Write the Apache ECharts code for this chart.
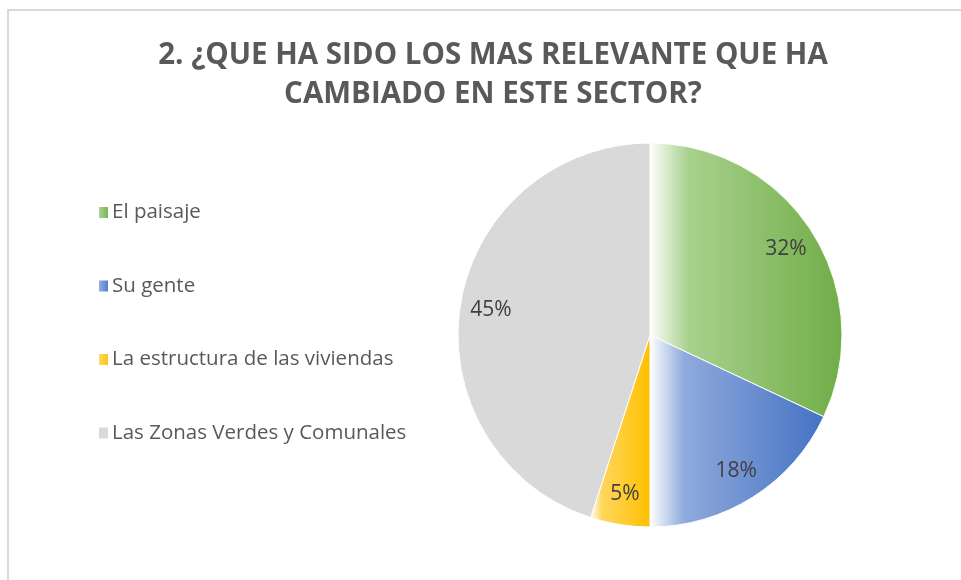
<!DOCTYPE html>
<html>
<head>
<meta charset="utf-8">
<script src="https://cdn.jsdelivr.net/npm/echarts@6/dist/echarts.min.js"></script>
<style>
  html, body { margin: 0; padding: 0; background: #fff; }
  #main { width: 961px; height: 580px; }
</style>
</head>
<body>
<div id="main"></div>
<script>
var categories = ['El paisaje', 'Su gente', 'La estructura de las viviendas', 'Las Zonas Verdes y Comunales'];
var values = [32, 18, 5, 45];
var baseColors = ['#70ad47', '#4472c4', '#ffc000', '#d9d9d9'];
var lightColors = ['#a9d18e', '#8faadc', '#ffd65c', '#d9d9d9'];

function grad(i) {
    if (i === 3) return baseColors[3];
    return new echarts.graphic.LinearGradient(0, 0, 1, 0, [
        {offset: 0, color: '#ffffff'},
        {offset: 0.2, color: lightColors[i]},
        {offset: 1, color: baseColors[i]}
    ]);
}

var pieData = categories.map(function (c, i) {
    return {name: c, value: values[i], itemStyle: {color: grad(i)}};
});
var labelData = categories.map(function (c, i) {
    return {name: c, value: values[i]};
});

var dom = document.getElementById('main');
var myChart = echarts.init(dom);
var option = {
    backgroundColor: '#ffffff',
    animation: false,
    title: {
        text: '2. ¿QUE HA SIDO LOS MAS RELEVANTE QUE HA\nCAMBIADO EN ESTE SECTOR?',
        left: 488,
        textAlign: 'center',
        top: 31,
        textStyle: {
            fontFamily: 'Open Sans',
            fontWeight: 'bold',
            fontSize: 29.5,
            lineHeight: 39,
            color: '#595959'
        }
    },
    legend: {
        orient: 'vertical',
        left: 92,
        top: 194,
        itemWidth: 11,
        itemHeight: 13,
        itemGap: 46.5,
        icon: 'rect',
        data: categories,
        textStyle: {
            fontFamily: 'Open Sans',
            fontSize: 20.5,
            lineHeight: 27,
            color: '#595959',
            padding: [0, 0, 0, -2]
        }
    },
    graphic: [{
        type: 'rect',
        shape: {x: 8, y: 10, width: 1000, height: 700},
        style: {fill: 'none', stroke: '#d9d9d9', lineWidth: 2},
        silent: true
    }],
    series: [
        {
            type: 'pie',
            center: [650, 335],
            radius: 192,
            startAngle: 90,
            label: {show: false},
            labelLine: {show: false},
            itemStyle: {borderColor: '#ffffff', borderWidth: 1},
            data: pieData
        },
        {
            type: 'pie',
            center: [650, 335],
            radius: [124, 192],
            startAngle: 90,
            silent: true,
            legendHoverLink: false,
            itemStyle: {color: 'rgba(0,0,0,0)'},
            label: {
                show: true,
                position: 'inside',
                formatter: '{c}%',
                fontFamily: 'Open Sans',
                fontSize: 21,
                color: '#404040'
            },
            labelLine: {show: false},
            data: labelData
        }
    ]
};
myChart.setOption(option, true);
window.onresize = myChart.resize;
</script>
</body>
</html>
